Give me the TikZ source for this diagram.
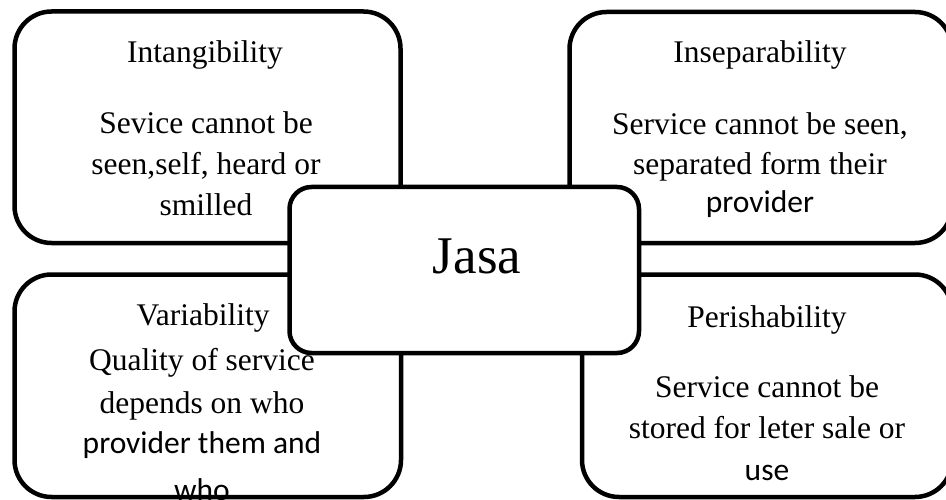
\documentclass[tikz,border=0pt]{standalone}
\usepackage{fontspec}
\setmainfont{Liberation Serif}
\newfontfamily\calfont{Carlito}
\begin{document}
\begin{tikzpicture}[x=1pt,y=-1pt,
  card/.style={draw=black, line width=4.5pt, fill=white, rounded corners=37pt, inner sep=0pt, outer sep=0pt},
  hub/.style={card, rounded corners=22pt},
  txt/.style={anchor=base, inner sep=0pt, font=\fontsize{31.5}{40}\selectfont},
  cal/.style={anchor=base, inner sep=0pt, font=\fontsize{31.5}{40}\selectfont\calfont},
  big/.style={anchor=base, inner sep=0pt, font=\fontsize{53}{60}\selectfont},
]
\useasboundingbox (0,0) rectangle (946,500);
\clip (0,0) rectangle (946,500);

% four characteristic cards
\node[card, minimum width=386pt,   minimum height=231.5pt] (intang) at (207.5,127.25) {};
\node[card, minimum width=382.5pt, minimum height=231pt]   (insep)  at (760.75,127.5) {};
\node[card, minimum width=386.5pt, minimum height=222.5pt] (vari)   at (207.75,385.75) {};
\node[card, minimum width=370pt,   minimum height=222.5pt] (peri)   at (767,385.75) {};

% central card
\node[hub, minimum width=349.5pt, minimum height=166pt] (jasa) at (464.25,270) {};

% texts: Intangibility
\node[txt] (i1) at (205,63)  {Intangibility};
\node[txt] (i2) at (206,134) {Sevice cannot be};
\node[txt] (i3) at (206,175) {seen,self, heard or};
\node[txt] (i4) at (206,215) {smilled};

% texts: Inseparability
\node[txt] (s1) at (760,63)  {Inseparability};
\node[txt] (s2) at (760,135) {Service cannot be seen,};
\node[txt] (s3) at (760,175) {separated form their};
\node[cal] (s4) at (760,213) {provider};

% texts: Variability
\node[txt] (v1) at (203,325) {Variability};
\node[txt] (v2) at (202,370) {Quality of service};
\node[txt] (v3) at (202,413) {depends on who};
\node[cal] (v4) at (202,453) {provider them and};
\node[cal] (v5) at (202,500) {who};

% texts: Perishability
\node[txt] (p1) at (767,327) {Perishability};
\node[txt] (p2) at (767,397) {Service cannot be};
\node[txt] (p3) at (767,438) {stored for leter sale or};
\node[cal] (p4) at (767,480) {use};

% central label
\node[big] (jl) at (477,273) {Jasa};
\end{tikzpicture}
\end{document}
